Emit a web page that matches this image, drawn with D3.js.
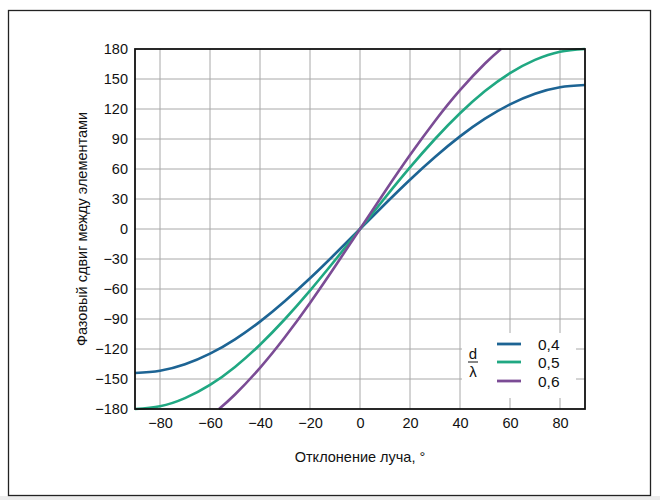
<!DOCTYPE html>
<html><head><meta charset="utf-8">
<script src="https://cdn.jsdelivr.net/npm/d3@7"></script>
<style>
html,body{margin:0;padding:0;background:#fff;}
text{font-family:"Liberation Sans",Arial,sans-serif;fill:#111;}
</style></head>
<body>
<svg id="chart" width="660" height="500"></svg>
<script>
const xTicks = [-80,-60,-40,-20,0,20,40,60,80];
const yTicks = [-180,-150,-120,-90,-60,-30,0,30,60,90,120,150,180];
const anglesFull = [-90,-80,-70,-60,-50,-40,-30,-20,-10,0,10,20,30,40,50,60,70,80,90];
const phase04 = [-144,-141.8,-135.3,-124.7,-110.3,-92.6,-72,-49.3,-25,0,25,49.3,72,92.6,110.3,124.7,135.3,141.8,144];
const phase05 = [-180,-177.3,-169.1,-155.9,-137.9,-115.7,-90,-61.6,-31.3,0,31.3,61.6,90,115.7,137.9,155.9,169.1,177.3,180];
const angles06 = [-56.4,-50,-40,-30,-20,-10,0,10,20,30,40,50,56.4];
const phase06 = [-180,-165.5,-138.8,-108,-73.9,-37.5,0,37.5,73.9,108,138.8,165.5,180];
const legendLabels = ["0,4","0,5","0,6"];
const colors = ["#1d6494","#20a882","#7b4c95"];
const xTitle = "Отклонение луча, °";
const yTitle = "Фазовый сдвиг между элементами";

const svg = d3.select("#chart");
// outer frame
svg.append("rect").attr("x",0).attr("y",496).attr("width",660).attr("height",4).attr("fill","#ececec");
svg.append("rect").attr("x",8.5).attr("y",10.5).attr("width",642).attr("height",485)
  .attr("fill","#fff").attr("stroke","#222").attr("stroke-width",1.3);

const L=135,R=585,T=49,B=409;
const x = d3.scaleLinear().domain([-90,90]).range([L,R]);
const y = d3.scaleLinear().domain([-180,180]).range([B,T]);

// grid
const g = svg.append("g");
g.selectAll(".vg").data(xTicks).join("line")
  .attr("x1",d=>x(d)).attr("x2",d=>x(d)).attr("y1",T).attr("y2",B)
  .attr("stroke","#a8a8a8").attr("stroke-width",1);
g.selectAll(".hg").data(yTicks.filter(d=>d>-180&&d<180)).join("line")
  .attr("x1",L).attr("x2",R).attr("y1",d=>y(d)).attr("y2",d=>y(d))
  .attr("stroke","#a8a8a8").attr("stroke-width",1);

// axes (labels)
const FS = 14.5;
const xAxis = d3.axisBottom(x).tickValues(xTicks).tickSize(0).tickPadding(9)
  .tickFormat(d=>d<0?"\u2212"+Math.abs(d):String(d));
const xa = svg.append("g").attr("transform",`translate(0,${B})`).call(xAxis);
xa.select(".domain").remove();
xa.selectAll("text").attr("font-size",FS).attr("font-family","Liberation Sans, Arial, sans-serif").attr("fill","#111");
const yAxis = d3.axisLeft(y).tickValues(yTicks).tickSize(0).tickPadding(7)
  .tickFormat(d=>d<0?"\u2212"+Math.abs(d):String(d));
const ya = svg.append("g").attr("transform",`translate(${L},0)`).call(yAxis);
ya.select(".domain").remove();
ya.selectAll("text").attr("font-size",FS).attr("font-family","Liberation Sans, Arial, sans-serif").attr("fill","#111");

// clip
svg.append("clipPath").attr("id","clip").append("rect").attr("x",L).attr("y",T-2).attr("width",R-L).attr("height",B-T+4);

const line = d3.line().x(d=>x(d[0])).y(d=>y(d[1])).curve(d3.curveNatural);
const series = [
  anglesFull.map((a,i)=>[a,phase04[i]]),
  anglesFull.map((a,i)=>[a,phase05[i]]),
  angles06.map((a,i)=>[a,phase06[i]])
];
svg.append("g").attr("clip-path","url(#clip)").selectAll("path").data(series).join("path")
  .attr("d",line).attr("fill","none").attr("stroke",(d,i)=>colors[i]).attr("stroke-width",2.6);

// plot border
svg.append("rect").attr("x",L).attr("y",T).attr("width",R-L).attr("height",B-T)
  .attr("fill","none").attr("stroke","#111").attr("stroke-width",1.8);

// legend
const lg = svg.append("g");
lg.append("rect").attr("x",462).attr("y",333).attr("width",114).attr("height",65).attr("fill","#fff");
lg.append("text").attr("x",473).attr("y",359).attr("text-anchor","middle").attr("font-size",15).text("d");
lg.append("line").attr("x1",468).attr("x2",478).attr("y1",362).attr("y2",362).attr("stroke","#111").attr("stroke-width",1);
lg.append("text").attr("x",473).attr("y",377).attr("text-anchor","middle").attr("font-size",15).text("λ");
const rows=[344,362,381];
legendLabels.forEach((lab,i)=>{
  lg.append("line").attr("x1",497).attr("x2",521).attr("y1",rows[i]).attr("y2",rows[i])
    .attr("stroke",colors[i]).attr("stroke-width",2.8);
  lg.append("text").attr("x",538).attr("y",rows[i]+5.5).attr("font-size",15.5).text(lab);
});

// titles
svg.append("text").attr("x",360).attr("y",462).attr("text-anchor","middle").attr("font-size",FS).text(xTitle);
svg.append("text").attr("transform","translate(87,229) rotate(-90)").attr("text-anchor","middle").attr("font-size",FS).text(yTitle);
</script>
</body></html>
